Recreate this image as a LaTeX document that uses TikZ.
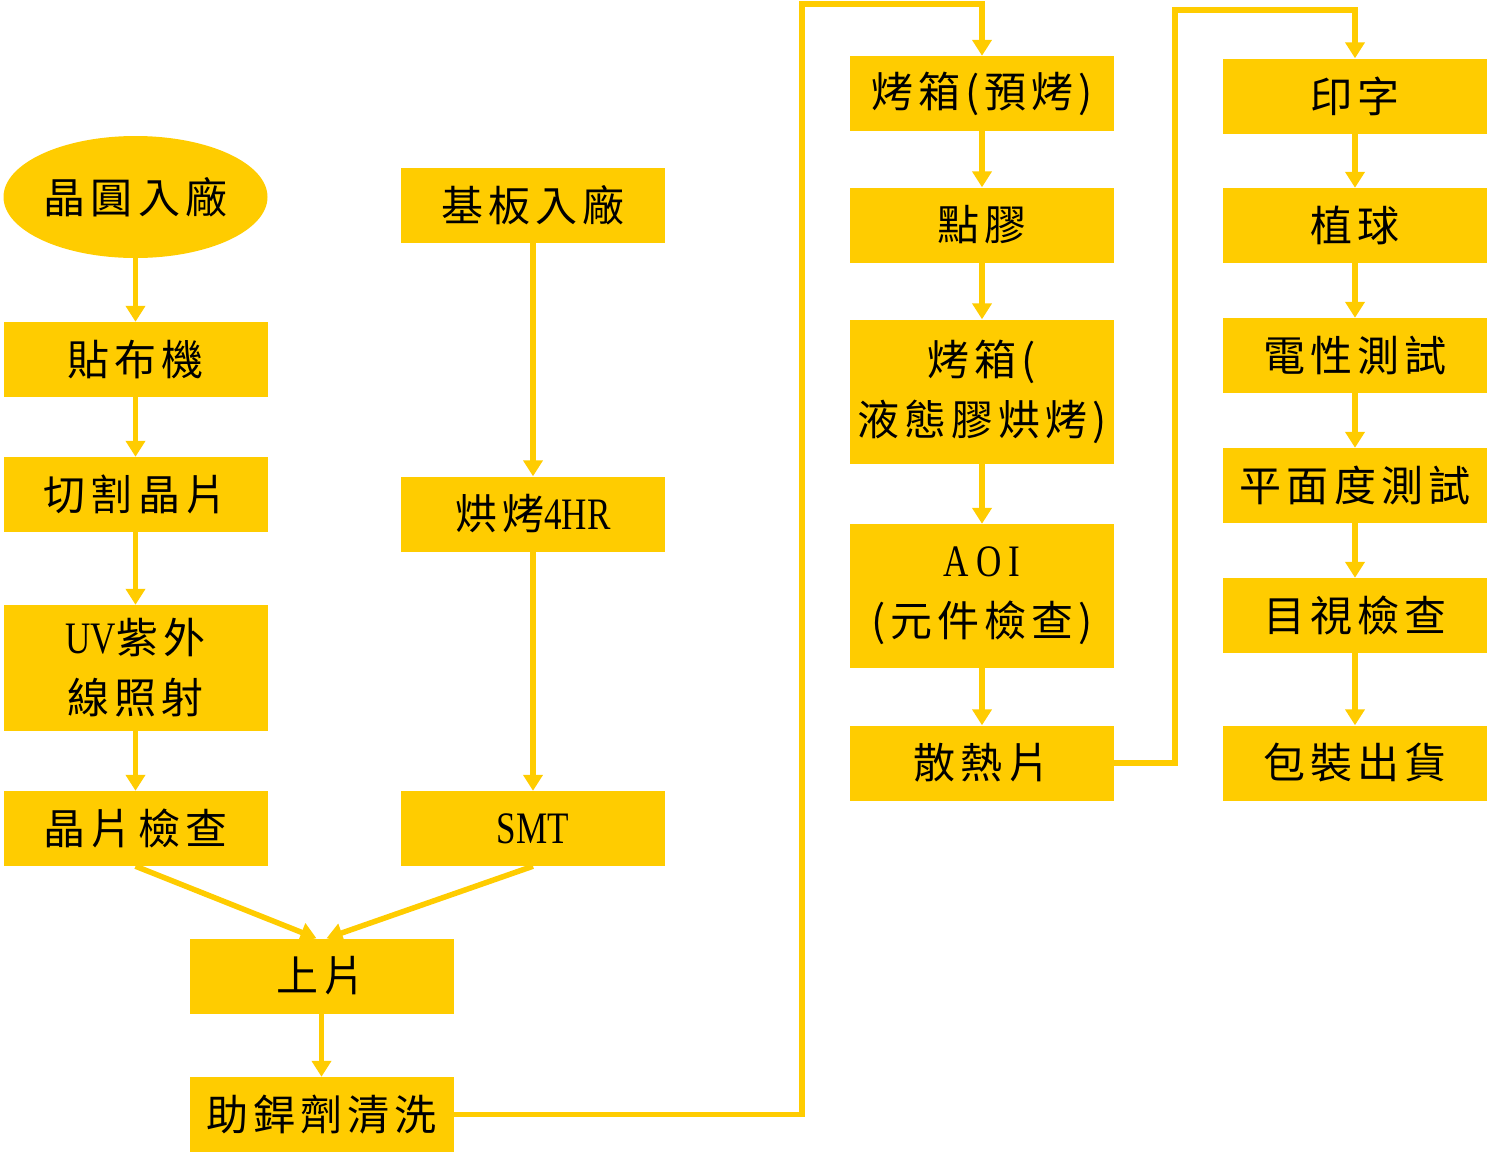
\documentclass[tikz,border=0pt]{standalone}
\usepackage{fontspec}
\usepackage{xcolor}
\usepackage{tikz}
\usetikzlibrary{arrows.meta,shapes.geometric}
\newfontfamily\cjk[LetterSpace=12]{Noto Sans CJK TC}
\newfontfamily\latn[FakeStretch=0.78]{Liberation Serif}
\newcommand\lat[1]{{\latn\fontsize{45pt}{60pt}\selectfont #1}}
\definecolor{flowyellow}{HTML}{FFCC00}

\begin{document}
\begin{tikzpicture}[x=1pt,y=-1pt,
  every node/.style={font=\cjk\fontsize{42pt}{60pt}\selectfont,inner sep=0pt,align=center},
  box/.style={fill=flowyellow,minimum width=264pt,minimum height=75pt},
  tallbox/.style={box,minimum height=144pt},
  startnode/.style={ellipse,fill=flowyellow,minimum width=264pt,minimum height=122pt},
  flow/.style={draw=flowyellow,line width=5.5pt,-{Triangle[width=19pt,length=16pt]}}]
  \useasboundingbox (0,0) rectangle (1510,1173);
  \node[startnode] (wafer)    at (135.5,197) {晶圓入廠};
  \node[box]       (tape)     at (135.5,359.5) {貼布機};
  \node[box]       (dicing)   at (135.5,494.5) {切割晶片};
  \node[box,minimum height=126pt] (uv) at (135.5,668) {\lat{UV}紫外\\線照射};
  \node[box]       (chipchk)  at (135.5,828.5) {晶片檢查};
  \node[box]       (substr)   at (533,205.5) {基板入廠};
  \node[box]       (bake)     at (533,514) {烘烤\lat{4HR}};
  \node[box]       (smt)      at (533,828.5) {\lat{SMT}};
  \node[box]       (load)     at (321.5,976) {上片};
  \node[box]       (flux)     at (321.5,1114.5) {助銲劑清洗};
  \node[box]       (preoven)  at (982,93.5) {烤箱(預烤)};
  \node[box]       (glue)     at (982,225) {點膠};
  \node[tallbox]   (cureoven) at (982,391.5) {烤箱(\\液態膠烘烤)};
  \node[tallbox]   (aoi)      at (982,596) {\lat{A\,O\,I}\\(元件檢查)};
  \node[box]       (heatsink) at (982,763) {散熱片};
  \node[box]       (marking)  at (1355,96) {印字};
  \node[box]       (ball)     at (1355,225.5) {植球};
  \node[box]       (etest)    at (1355,355.5) {電性測試};
  \node[box]       (flat)     at (1355,485.5) {平面度測試};
  \node[box]       (visual)   at (1355,615.5) {目視檢查};
  \node[box]       (pack)     at (1355,763) {包裝出貨};
  \coordinate (upA) at (802,4);
  \coordinate (upB) at (1175,10);
  \draw[flow] (wafer.south) -- (tape.north);
  \draw[flow] (tape.south) -- (dicing.north);
  \draw[flow] (dicing.south) -- (uv.north);
  \draw[flow] (uv.south) -- (chipchk.north);
  \draw[flow] (substr.south) -- (bake.north);
  \draw[flow] (bake.south) -- (smt.north);
  \draw[flow] (chipchk.south) -- ([xshift=-5pt]load.north);
  \draw[flow] (smt.south) -- ([xshift=5pt]load.north);
  \draw[flow] (load.south) -- (flux.north);
  \draw[flow] (flux.east) -| (upA) -| (preoven.north);
  \draw[flow] (preoven.south) -- (glue.north);
  \draw[flow] (glue.south) -- (cureoven.north);
  \draw[flow] (cureoven.south) -- (aoi.north);
  \draw[flow] (aoi.south) -- (heatsink.north);
  \draw[flow] (heatsink.east) -| (upB) -| (marking.north);
  \draw[flow] (marking.south) -- (ball.north);
  \draw[flow] (ball.south) -- (etest.north);
  \draw[flow] (etest.south) -- (flat.north);
  \draw[flow] (flat.south) -- (visual.north);
  \draw[flow] (visual.south) -- (pack.north);
\end{tikzpicture}
\end{document}
